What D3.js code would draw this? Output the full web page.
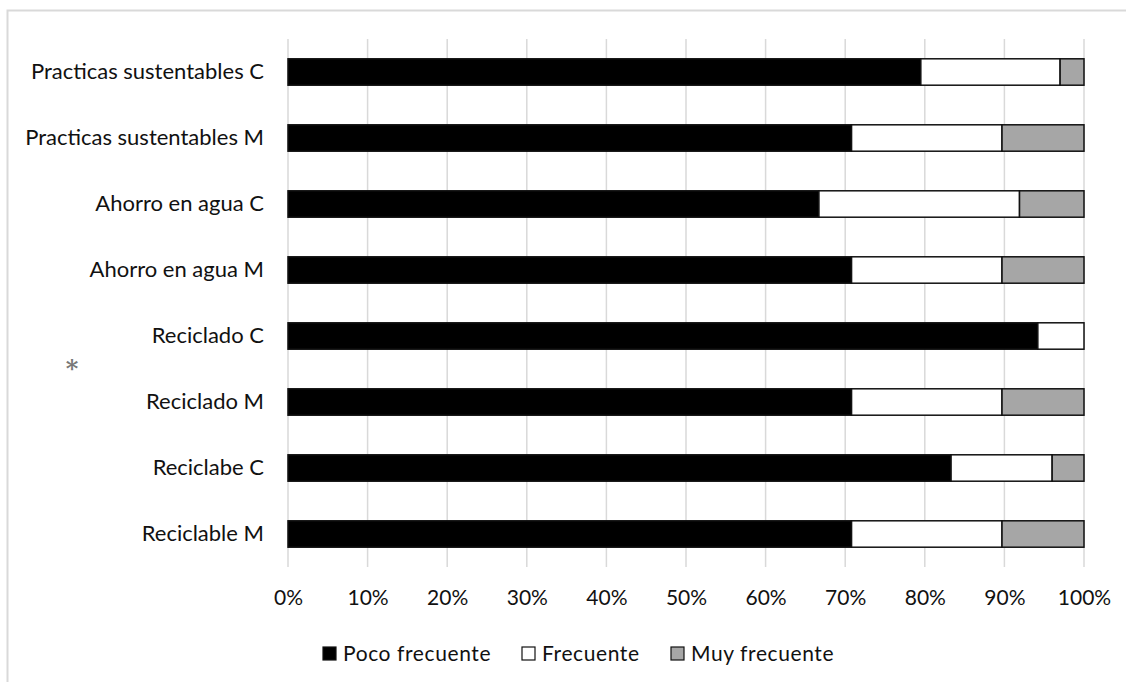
<!DOCTYPE html>
<html>
<head>
<meta charset="utf-8">
<script src="https://cdn.jsdelivr.net/npm/d3@7"></script>
<style>
  html, body { margin: 0; padding: 0; background: #fff; }
  svg { display: block; }
  text { font-family: Lato, "Open Sans", sans-serif; fill: #111; }
</style>
</head>
<body>
<svg id="chart" width="1126" height="682"></svg>
<script>
// Categories, top to bottom
const categories = [
  "Practicas sustentables C",
  "Practicas sustentables M",
  "Ahorro en agua C",
  "Ahorro en agua M",
  "Reciclado C",
  "Reciclado M",
  "Reciclabe C",
  "Reciclable M"
];
const seriesNames = ["Poco frecuente", "Frecuente", "Muy frecuente"];
const pocoFrecuente = [79.5, 70.8, 66.7, 70.8, 94.2, 70.8, 83.3, 70.8];
const frecuente     = [17.5, 18.9, 25.2, 18.9,  5.8, 18.9, 12.7, 18.9];
const muyFrecuente  = [ 3.0, 10.3,  8.1, 10.3,  0.0, 10.3,  4.0, 10.3];
const tickValues = [0, 10, 20, 30, 40, 50, 60, 70, 80, 90, 100];
const seriesColors = ["#000000", "#ffffff", "#a6a6a6"];

const svg = d3.select("#chart");

// outer chart frame
svg.append("rect")
  .attr("x", 7.5).attr("y", 10.5)
  .attr("width", 1140).attr("height", 700)
  .attr("fill", "none").attr("stroke", "#d9d9d9").attr("stroke-width", 2);

const plot = { left: 288, right: 1084, top: 39, bottom: 567 };

const x = d3.scaleLinear().domain([0, 100]).range([plot.left, plot.right]);
const y = d3.scaleBand().domain(categories).range([plot.top, plot.bottom]).paddingInner(0.6).paddingOuter(0.3);

// vertical gridlines
svg.append("g").selectAll("line")
  .data(tickValues)
  .join("line")
  .attr("x1", d => x(d)).attr("x2", d => x(d))
  .attr("y1", plot.top).attr("y2", plot.bottom)
  .attr("stroke", "#d9d9d9").attr("stroke-width", 1.5);

// stacked segments
const rows = categories.map((c, i) => ({
  cat: c,
  vals: [pocoFrecuente[i], frecuente[i], muyFrecuente[i]]
}));
const segs = [];
rows.forEach(r => {
  let acc = 0;
  r.vals.forEach((v, k) => {
    if (v > 0) segs.push({ cat: r.cat, x0: acc, x1: acc + v, k });
    acc += v;
  });
});

svg.append("g").selectAll("rect")
  .data(segs)
  .join("rect")
  .attr("x", d => x(d.x0))
  .attr("y", d => y(d.cat))
  .attr("width", d => x(d.x1) - x(d.x0))
  .attr("height", y.bandwidth())
  .attr("fill", d => seriesColors[d.k])
  .attr("stroke", "#111")
  .attr("stroke-width", 1.5);

// category axis
const yAxis = svg.append("g")
  .attr("transform", `translate(${plot.left},0)`)
  .call(d3.axisLeft(y).tickSize(0).tickPadding(24));
yAxis.select(".domain").remove();
yAxis.selectAll("text").style("font-size", "22px").attr("fill", "#111");

// value axis
const xAxis = svg.append("g")
  .attr("transform", `translate(0,${plot.bottom})`)
  .call(d3.axisBottom(x).tickValues(tickValues).tickFormat(d => d + "%").tickSize(0).tickPadding(23));
xAxis.select(".domain").remove();
xAxis.selectAll("text").style("font-size", "21px").attr("fill", "#111");

// asterisk mark
svg.append("text")
  .attr("x", 72).attr("y", 377)
  .attr("text-anchor", "middle")
  .style("font-family", "'DejaVu Serif', serif")
  .style("font-size", "24px")
  .style("font-weight", "bold")
  .style("fill", "#777")
  .text("*");

// legend
const legendItems = [
  { name: seriesNames[0], color: seriesColors[0], x: 323 },
  { name: seriesNames[1], color: seriesColors[1], x: 522 },
  { name: seriesNames[2], color: seriesColors[2], x: 671 }
];
const legend = svg.append("g");
legendItems.forEach(it => {
  legend.append("rect")
    .attr("x", it.x).attr("y", 647)
    .attr("width", 13).attr("height", 13)
    .attr("fill", it.color).attr("stroke", "#111").attr("stroke-width", 1.2);
  legend.append("text")
    .attr("x", it.x + 20).attr("y", 661)
    .style("font-size", "21px")
    .style("letter-spacing", "0.6px")
    .text(it.name);
});
</script>
</body>
</html>
